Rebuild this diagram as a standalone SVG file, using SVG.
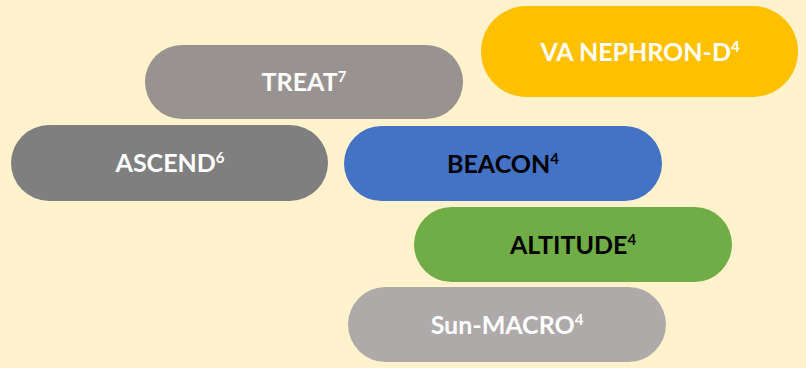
<svg xmlns="http://www.w3.org/2000/svg" width="806" height="368" viewBox="0 0 806 368">
<style>
.lbl{font-family:Lato,"Open Sans","Liberation Sans",sans-serif;font-weight:bold;font-size:25px;text-anchor:middle}
.w{fill:#FFFFFF}
.k{fill:#000000}
.sup{font-size:15px}
</style>
<rect x="0" y="0" width="806" height="368" fill="#FFF2CC"/>
<g id="connectors"/>
<g id="va-nephron-d">
<rect x="481" y="6" width="317" height="91" rx="45.5" fill="#FFC000"/>
<text class="lbl w" x="640" y="61">VA NEPHRON-D<tspan class="sup" dy="-9">4</tspan></text>
</g>
<g id="treat">
<rect x="145" y="45" width="318" height="74" rx="37" fill="#989390"/>
<text class="lbl w" x="304" y="91">TREAT<tspan class="sup" dy="-9">7</tspan></text>
</g>
<g id="ascend">
<rect x="11" y="125" width="317" height="76" rx="38" fill="#7F7F7F"/>
<text class="lbl w" x="170" y="172">ASCEND<tspan class="sup" dy="-9">6</tspan></text>
</g>
<g id="beacon">
<rect x="344" y="126" width="318" height="75" rx="37.5" fill="#4472C4"/>
<text class="lbl k" x="503" y="172.5">BEACON<tspan class="sup" dy="-9">4</tspan></text>
</g>
<g id="altitude">
<rect x="414" y="207" width="318" height="75" rx="37.5" fill="#70AD47"/>
<text class="lbl k" x="573" y="253.5">ALTITUDE<tspan class="sup" dy="-9">4</tspan></text>
</g>
<g id="sun-macro">
<rect x="348" y="287" width="318" height="75" rx="37.5" fill="#AEAAAA"/>
<text class="lbl w" x="507" y="333.5">Sun-MACRO<tspan class="sup" dy="-9">4</tspan></text>
</g>
</svg>
